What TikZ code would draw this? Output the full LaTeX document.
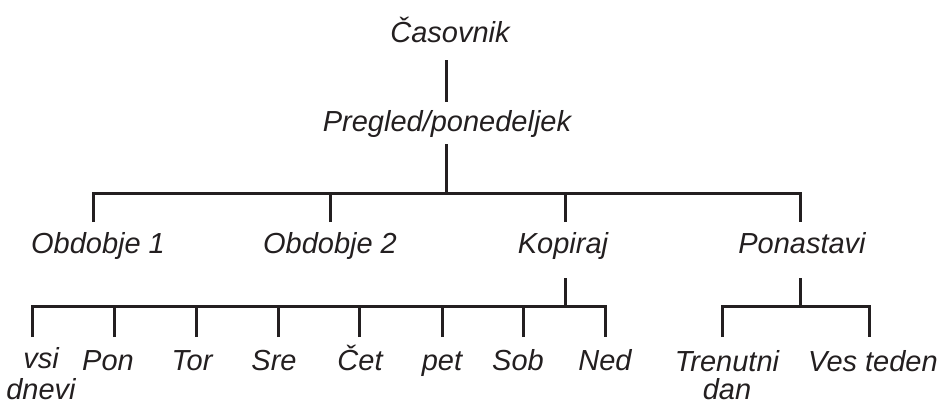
\documentclass[tikz,border=0pt]{standalone}
\usepackage{fontspec}
\setmainfont{Liberation Sans}
\definecolor{ink}{HTML}{231F20}
\begin{document}
\begin{tikzpicture}[x=1pt,y=-1pt,
  lbl/.style={font=\itshape\fontsize{29}{30}\selectfont, inner sep=0pt, text=ink, anchor=base},
  two/.style={lbl, align=center},
  conn/.style={line width=3pt, draw=ink, line cap=butt}]
\useasboundingbox (0,0) rectangle (937,405);
% labels
\node[lbl] (cas) at (450,42) {Časovnik};
\node[lbl] (preg) at (447,131) {Pregled/ponedeljek};
\node[lbl] (ob1) at (98,253) {Obdobje 1};
\node[lbl] (ob2) at (330,253) {Obdobje 2};
\node[lbl] (kop) at (563,253) {Kopiraj};
\node[lbl] (pon) at (802,253) {Ponastavi};
\node[two, font=\itshape\fontsize{29}{31}\selectfont] (vsi) at (41,399) {vsi\\dnevi};
\node[lbl] (d1) at (108,370) {Pon};
\node[lbl] (d2) at (192,370) {Tor};
\node[lbl] (d3) at (274,370) {Sre};
\node[lbl] (d4) at (360,370) {Čet};
\node[lbl] (d5) at (442,370) {pet};
\node[lbl] (d6) at (518,370) {Sob};
\node[lbl] (d7) at (605,370) {Ned};
\node[two, font=\itshape\fontsize{29}{28}\selectfont] (tre) at (727,399) {Trenutni\\dan};
\node[lbl] (ves) at (873,371) {Ves teden};
% junction coordinates
\coordinate (j0a) at (446,60);
\coordinate (j0b) at (446,102);
\coordinate (j1a) at (446,144);
\coordinate (j1) at (446,193);
\coordinate (o1) at (93,222);
\coordinate (o2) at (330,222);
\coordinate (o3) at (565,222);
\coordinate (o4) at (800,222);
\coordinate (k0) at (565,278);
\coordinate (k1) at (565,306);
\coordinate (p0) at (800,278);
\coordinate (p1) at (800,306);
\coordinate (q1) at (722,337);
\coordinate (q2) at (869,337);
\foreach \x [count=\i from 0] in {32,114,196,278,359,442,523,605}
  \coordinate (e\i) at (\x,337);
% connectors
\draw[conn] (j0a) -- (j0b);
\draw[conn] (j1a) -- (j1);
\draw[conn] (o1) |- (j1) -| (o4);
\draw[conn] (o2) -- (o2 |- j1);
\draw[conn] (o3) -- (o3 |- j1);
\draw[conn] (k0) -- (k1);
\draw[conn] (e0) |- (k1) -| (e7);
\foreach \i in {1,...,6} \draw[conn] (e\i) -- (e\i |- k1);
\draw[conn] (p0) -- (p1);
\draw[conn] (q1) |- (p1) -| (q2);
\end{tikzpicture}
\end{document}
